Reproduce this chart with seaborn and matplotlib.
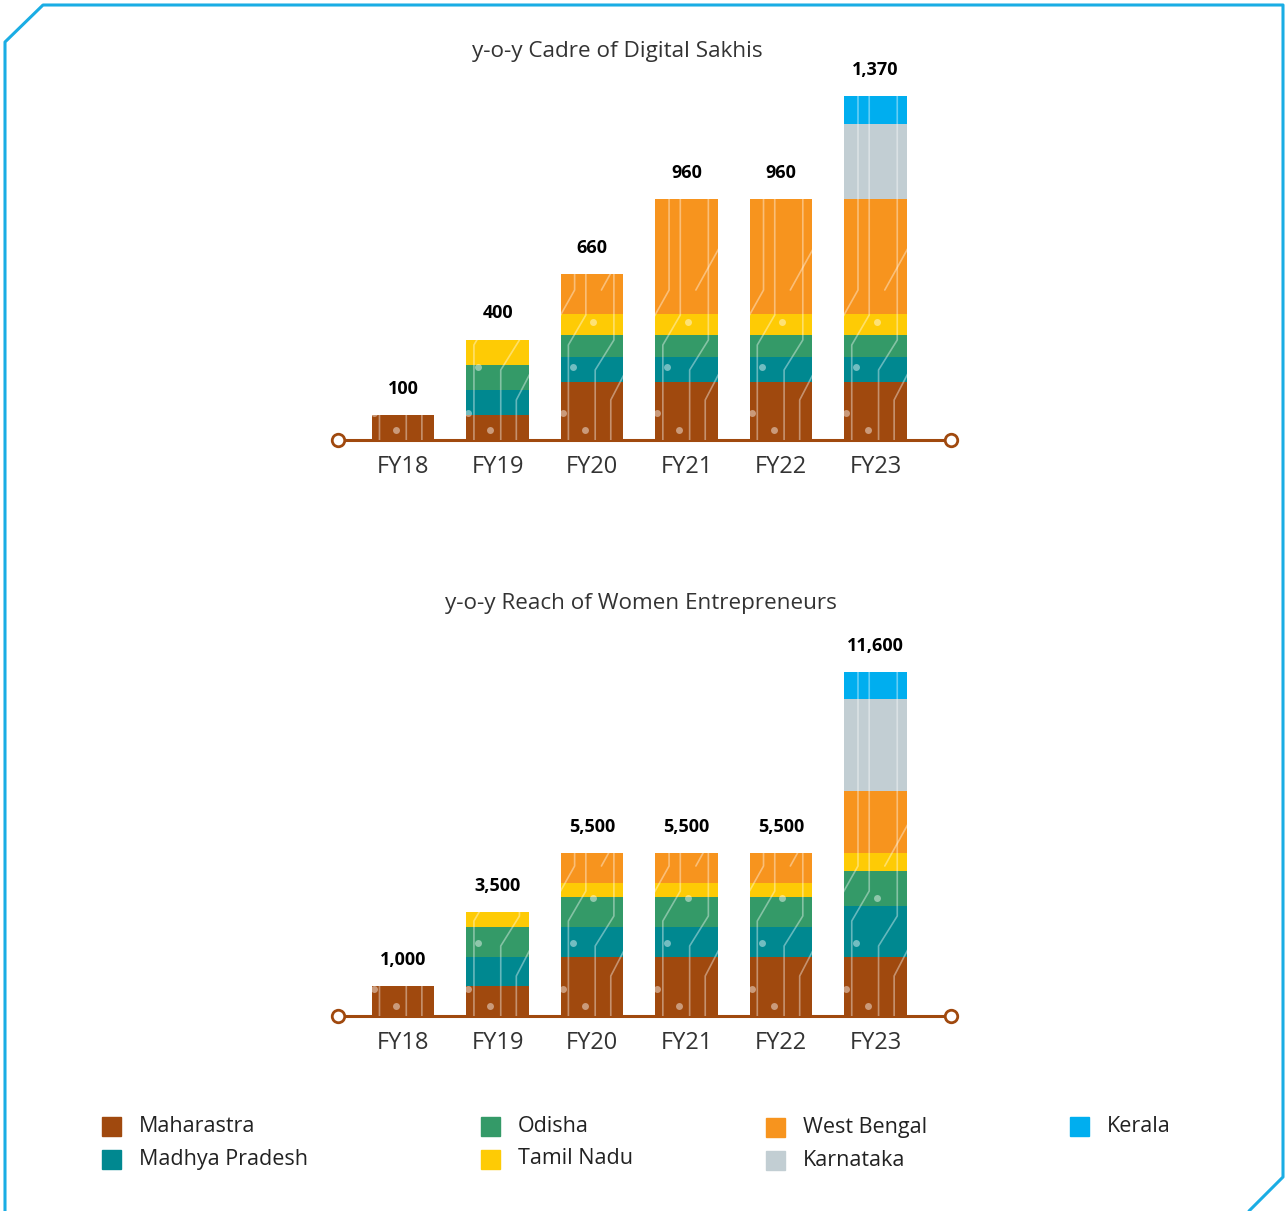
import matplotlib
matplotlib.use("Agg")
import matplotlib.pyplot as plt
import seaborn as sns
import pandas as pd
from matplotlib.lines import Line2D
from matplotlib.patches import Rectangle

# 数据
years = ["FY18", "FY19", "FY20", "FY21", "FY22", "FY23"]
states = ["Maharastra", "Madhya Pradesh", "Odisha", "Tamil Nadu",
          "West Bengal", "Karnataka", "Kerala"]
state_colors = ["#A0490E", "#008890", "#349A68", "#FECB05",
                "#F7941E", "#C2CED3", "#00AEEF"]

# Digital Sakhis by state
sakhi_maharastra = [100, 100, 230, 230, 230, 230]
sakhi_mp = [0, 100, 100, 100, 100, 100]
sakhi_odisha = [0, 100, 90, 90, 90, 90]
sakhi_tn = [0, 100, 80, 80, 80, 80]
sakhi_wb = [0, 0, 160, 460, 460, 460]
sakhi_karnataka = [0, 0, 0, 0, 0, 300]
sakhi_kerala = [0, 0, 0, 0, 0, 110]

# Women entrepreneurs reached by state
women_maharastra = [1000, 1000, 2000, 2000, 2000, 2000]
women_mp = [0, 1000, 1000, 1000, 1000, 1700]
women_odisha = [0, 1000, 1000, 1000, 1000, 1200]
women_tn = [0, 500, 500, 500, 500, 600]
women_wb = [0, 0, 1000, 1000, 1000, 2100]
women_karnataka = [0, 0, 0, 0, 0, 3100]
women_kerala = [0, 0, 0, 0, 0, 900]

sns.set_theme(style="white")
plt.rcParams['font.family'] = ['Open Sans', 'DejaVu Sans']

W, H = 1285, 1211
fig = plt.figure(figsize=(W / 100, H / 100), dpi=100)
BROWN = "#A0490E"
BAR_W = 0.66

# circuit-like decoration inside bars (x as fraction of bar width, y in px)
traces = [
    [(0.12, 0), (0.12, 95), (0.40, 125), (0.40, 420)],
    [(0.55, 0), (0.55, 70), (0.85, 100), (0.85, 420)],
    [(0.80, 0), (0.80, 40), (1.05, 70)],
    [(-0.05, 120), (0.22, 150), (0.22, 420)],
    [(0.65, 150), (1.05, 195)],
]
dots = [(0.38, 10), (0.03, 27), (0.52, 118), (0.19, 73)]


def draw_stack(ax, layers, ymax):
    df = pd.DataFrame(dict(zip(states, layers)), index=years)
    cum = df.cumsum(axis=1)
    totals = cum[states[-1]]
    # 从最高的累计值开始画，下层覆盖上层
    for state, color in reversed(list(zip(states, state_colors))):
        sns.barplot(x=years, y=cum[state].values, color=color, width=BAR_W,
                    saturation=1, errorbar=None, ax=ax, zorder=2, linewidth=0)
    bars = ax.patches[:len(years)]

    ax.set_xlim(-0.69, len(years) - 0.2)
    ax.set_ylim(0, ymax)
    px = ymax / (ax.get_position().height * H)

    for bar in bars:
        x0, bw = bar.get_x(), bar.get_width()
        for tr in traces:
            xs = [x0 + fx * bw for fx, _ in tr]
            ys = [fy * px for _, fy in tr]
            ln, = ax.plot(xs, ys, color="white", alpha=0.4, lw=1.2, zorder=3)
            ln.set_clip_path(bar)
        for fx, fy in dots:
            d, = ax.plot([x0 + fx * bw], [fy * px], 'o', color="white",
                         alpha=0.45, ms=5, mew=0, zorder=3)
            d.set_clip_path(bar)

    for i, t in enumerate(totals):
        ax.annotate(f"{t:,.0f}", (i, t), xytext=(0, 19), textcoords="offset points",
                    ha="center", va="center", fontsize=13, fontweight="bold",
                    color="#000000")

    xl = ax.get_xlim()
    ax.plot(xl, [0, 0], color=BROWN, lw=2.2, zorder=1, clip_on=False)
    ax.plot(xl, [0, 0], 'o', ms=9, mfc="white", mec=BROWN, mew=2,
            zorder=4, clip_on=False, ls="none")

    sns.despine(ax=ax, left=True, bottom=True)
    ax.set_yticks([])
    ax.set_xlabel("")
    ax.set_ylabel("")
    ax.tick_params(axis="x", length=0, pad=11, labelsize=17, labelcolor="#333333")


ax_left = 338 / W
ax_width = (951 - 338) / W
ax_h = 344 / H

ax1 = fig.add_axes([ax_left, 1 - 440 / H, ax_width, ax_h])
draw_stack(ax1, [sakhi_maharastra, sakhi_mp, sakhi_odisha, sakhi_tn,
                 sakhi_wb, sakhi_karnataka, sakhi_kerala], 1370)

ax2 = fig.add_axes([ax_left, 1 - 1016 / H, ax_width, ax_h])
draw_stack(ax2, [women_maharastra, women_mp, women_odisha, women_tn,
                 women_wb, women_karnataka, women_kerala], 11600)

fig.text(617 / W, 1 - 51 / H, "y-o-y Cadre of Digital Sakhis", ha="center",
         va="center", fontsize=16.2, color="#333333")
fig.text(641 / W, 1 - 603 / H, "y-o-y Reach of Women Entrepreneurs", ha="center",
         va="center", fontsize=16.2, color="#333333")

# 图例
legend_items = [
    (102, 1126, 0), (102, 1159, 1),
    (481, 1126, 2), (481, 1159, 3),
    (766, 1127, 4), (766, 1160, 5),
    (1070, 1126, 6),
]
sq = 19
for x, y, k in legend_items:
    fig.patches.append(Rectangle((x / W, 1 - (y + sq / 2) / H), sq / W, sq / H,
                                 transform=fig.transFigure, color=state_colors[k]))
    fig.text((x + 37) / W, 1 - y / H, states[k], ha="left", va="center",
             fontsize=15.5, color="#222222")

# 外框
frame = [(5, 1211), (5, 42), (43, 5), (1283, 5), (1283, 1177), (1249, 1211)]
fig.lines.append(Line2D([p[0] / W for p in frame], [1 - p[1] / H for p in frame],
                        transform=fig.transFigure, color="#1AADE4", lw=2.2))

fig.savefig("out.png", dpi=100)
plt.close(fig)
